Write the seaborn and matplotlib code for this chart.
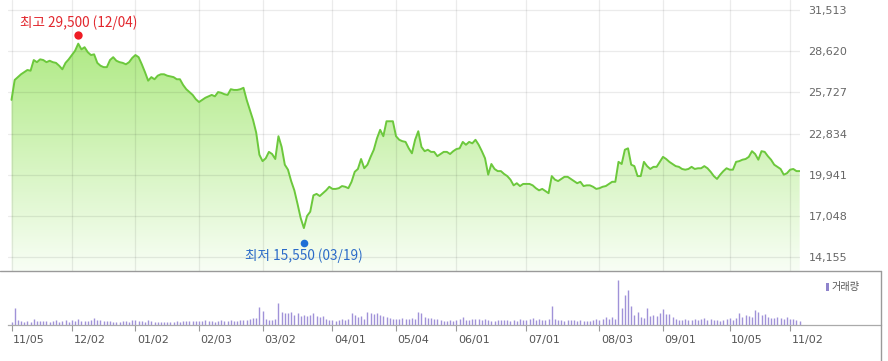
import numpy as np
import pandas as pd
import matplotlib
matplotlib.use("Agg")
import matplotlib.pyplot as plt
from matplotlib.patches import PathPatch, Rectangle
from matplotlib.lines import Line2D
from matplotlib.transforms import ScaledTranslation
import seaborn as sns

# ---------------- data ----------------
start_date = "2019-11-05"
end_date = "2020-11-05"
market_holidays = ["2019-12-25", "2019-12-31", "2020-01-01", "2020-01-24", "2020-01-27",
                   "2020-04-15", "2020-04-30", "2020-05-01", "2020-05-05", "2020-08-17",
                   "2020-09-30", "2020-10-01", "2020-10-02", "2020-10-09"]

close = [
    25200, 26600, 26800, 27000, 27150, 27300, 27250, 28000, 27850, 28050,
    28000, 27850, 27950, 27850, 27800, 27600, 27350, 27800, 28050, 28350,
    28650, 29150, 28750, 28900, 28550, 28350, 28400, 27800, 27600, 27500,
    27500, 28000, 28200, 27950, 27850, 27800, 27700, 27850, 28150, 28350,
    28200, 27700, 27150, 26550, 26800, 26650, 26900, 27000, 27000, 26900,
    26850, 26800, 26650, 26650, 26250, 25950, 25750, 25550, 25250, 25050,
    25200, 25350, 25450, 25550, 25450, 25750, 25700, 25600, 25550, 25950,
    25900, 25900, 25950, 26050, 25200, 24500, 23800, 22900, 21350, 20900,
    21100, 21550, 21400, 21050, 22650, 21900, 20650, 20300, 19500, 18850,
    17900, 16900, 16200, 17050, 17350, 18500, 18600, 18450, 18650, 18850,
    19100, 18950, 18950, 19000, 19150, 19100, 19000, 19450, 20150, 20350,
    21050, 20400, 20650, 21200, 21700, 22500, 23100, 22650, 23700, 23700,
    23700, 22650, 22400, 22300, 22250, 21800, 21450, 22400, 23000, 21900,
    21600, 21700, 21550, 21550, 21250, 21400, 21550, 21550, 21400, 21600,
    21750, 21800, 22250, 22050, 22250, 22150, 22400, 22050, 21600, 21100,
    19950, 20700, 20350, 20200, 20200, 20000, 19850, 19600, 19200, 19350,
    19150, 19300, 19300, 19300, 19200, 19000, 18850, 18950, 18800, 18650,
    19850, 19600, 19500, 19650, 19800, 19800, 19650, 19500, 19350, 19450,
    19150, 19200, 19200, 19100, 18950, 19000, 19100, 19150, 19300, 19450,
    19450, 20850, 20700, 21700, 21800, 20650, 20550, 19850, 19850, 20850,
    20550, 20350, 20500, 20500, 20850, 21200, 21050, 20850, 20700, 20550,
    20500, 20350, 20300, 20350, 20500, 20350, 20400, 20400, 20550, 20400,
    20150, 19850, 19650, 19950, 20200, 20400, 20300, 20300, 20850, 20900,
    21000, 21050, 21200, 21600, 21400, 21000, 21600, 21550, 21250, 21000,
    20650, 20500, 20350, 19950, 20050, 20300, 20350, 20200, 20200,
]

# volume (units of 10,000 shares), one row per month
volume = [
    3, 17, 5, 4, 3, 4, 3, 6, 4, 4, 4, 4, 3, 4, 5, 3, 4, 5, 3,
    5, 4, 6, 4, 4, 4, 5, 7, 5, 5, 4, 4, 4, 3, 3, 3, 4, 4, 3, 5,
    5, 4, 4, 3, 5, 4, 3, 3, 3, 3, 3, 3, 3, 4, 3, 4, 4, 4, 4, 4,
    4, 4, 5, 4, 4, 3, 4, 5, 4, 4, 5, 4, 4, 5, 5, 5, 6, 7, 7, 18,
    14, 6, 5, 5, 6, 22, 13, 12, 12, 13, 10, 12, 9, 10, 9, 10, 12, 9, 8, 9, 6, 5,
    5, 4, 5, 6, 5, 6, 12, 10, 8, 9, 6, 13, 12, 11, 12, 10, 9, 8, 7, 6,
    6, 6, 7, 6, 6, 7, 6, 13, 12, 8, 7, 7, 6, 6, 5, 4, 4, 5, 4,
    5, 6, 8, 5, 5, 6, 6, 6, 5, 6, 5, 4, 4, 5, 5, 5, 5, 4, 5, 4, 6, 5,
    5, 6, 7, 5, 6, 5, 5, 6, 19, 6, 5, 5, 4, 5, 5, 5, 4, 5, 4, 4, 4, 5, 6,
    5, 6, 8, 6, 8, 6, 45, 17, 30, 35, 19, 10, 13, 8, 7, 17, 9, 10, 9, 12,
    16, 11, 11, 8, 6, 5, 5, 6, 5, 5, 6, 5, 6, 7, 5, 6, 5, 5, 4, 5, 6,
    7, 5, 7, 12, 8, 10, 9, 8, 15, 13, 10, 11, 8, 7, 7, 8, 7, 6, 8,
    6, 6, 5, 4,
]

y_ticks = [14155, 17048, 19941, 22834, 25727, 28620, 31513]
high_value, high_label = 29500, "12/04"
low_value, low_label = 15550, "03/19"
high_text = "최고 29,500 (12/04)"
low_text = "최저 15,550 (03/19)"
legend_text = "거래량"

# ---------------- build ----------------
dates = pd.bdate_range(start_date, end_date).difference(pd.to_datetime(market_holidays))
df = pd.DataFrame({"date": dates, "close": close, "volume": volume})
df["pos"] = np.arange(len(df))
month_first = df.groupby(df["date"].dt.to_period("M"))["pos"].min().values
tick_labels = [df["date"].iloc[p].strftime("%m/%d") for p in month_first]

sns.set_theme(style="white")
plt.rcParams["font.family"] = ["DejaVu Sans"]
KFONT = ["Noto Sans CJK KR", "DejaVu Sans"]

W, H, DPI = 888, 361, 100
fig = plt.figure(figsize=(W / DPI, H / DPI), dpi=DPI)
fig.patch.set_facecolor("white")

# layout in pixels
px_left, px_right, px_top, px_bottom = 8, 800, 0, 271
px_first, px_step = 11.5, 3.178
px_per_val = 41.2 / 2893.0
y_top_px = 10  # pixel of top tick

ax = fig.add_axes([px_left / W, (H - px_bottom) / H, (px_right - px_left) / W, (px_bottom - px_top) / H])
x0 = -(px_first - px_left) / px_step
x1 = x0 + (px_right - px_left) / px_step
ymax = y_ticks[-1] + (y_top_px - px_top) / px_per_val
ymin = y_ticks[-1] - (px_bottom - y_top_px) / px_per_val

# gradient fill under the line
poly = ax.fill_between(df["pos"], df["close"], ymin, color="none", lw=0)
path = poly.get_paths()[0]
patch = PathPatch(path, transform=ax.transData, facecolor="none", edgecolor="none")
ax.add_patch(patch)
top_rgb = np.array([162, 230, 112]) / 255.0
bot_rgb = np.array([248, 254, 245]) / 255.0
t = np.linspace(0, 1, 256)[:, None]
grad = (bot_rgb[None, :] * (1 - t) + top_rgb[None, :] * t)[:, None, :]
im = ax.imshow(grad, extent=[x0, x1, ymin, ymax], aspect="auto", origin="lower",
               interpolation="bilinear", zorder=1)
im.set_clip_path(patch)

sns.lineplot(data=df, x="pos", y="close", ax=ax, color="#6cc83c", lw=1.4, zorder=3)

ax.set_xlim(x0, x1)
ax.set_ylim(ymin, ymax)
ax.set_xticks(month_first)
ax.set_xticklabels([])
ax.set_yticks(y_ticks)
ax.set_yticklabels([f"{v:,}" for v in y_ticks])
ax.yaxis.tick_right()
ax.tick_params(axis="y", length=0, pad=6, labelsize=8, labelcolor="#666666")
ax.tick_params(axis="x", length=0)
ax.set_axisbelow(False)
ax.grid(True, color="#000000", alpha=0.08, lw=0.9)
for gl in ax.get_xgridlines() + ax.get_ygridlines():
    gl.set_zorder(2)
for s in ax.spines.values():
    s.set_visible(False)
ax.set_xlabel("")
ax.set_ylabel("")

# high / low markers
hi_pos = df["pos"][df["date"].dt.strftime("%m/%d") == high_label].iloc[0]
lo_pos = df["pos"][df["date"].dt.strftime("%m/%d") == low_label].iloc[0]
tr_hi = ax.transData + ScaledTranslation(0, 3.7 / DPI, fig.dpi_scale_trans)
tr_lo = ax.transData + ScaledTranslation(0, -5.4 / DPI, fig.dpi_scale_trans)
ax.plot([hi_pos], [high_value], "o", ms=6, color="#ee1c24", mec="none", transform=tr_hi, zorder=5, clip_on=False)
ax.plot([lo_pos], [low_value], "o", ms=5.5, color="#1f6fd6", mec="none", transform=tr_lo, zorder=5, clip_on=False)
ax.annotate(high_text, xy=(hi_pos, high_value), xytext=(0, 16 * 0.72), textcoords="offset points",
            ha="center", va="center", color="#e2262d", fontsize=9.8, family=KFONT)
ax.annotate(low_text, xy=(lo_pos, low_value), xytext=(0, -18.4 * 0.72), textcoords="offset points",
            ha="center", va="center", color="#2b6bc8", fontsize=9.8, family=KFONT)

# volume panel
v_right, v_top, v_bottom = 881, 271, 325
ax2 = fig.add_axes([px_left / W, (H - v_bottom) / H, (v_right - px_left) / W, (v_bottom - v_top) / H])
ax2.vlines(df["pos"], 0, df["volume"], color="#a092d8", lw=1.0)
ax2.set_xlim(x0, x0 + (v_right - px_left) / px_step)
ax2.set_ylim(0, v_bottom - v_top)
ax2.set_yticks([])
ax2.set_xticks(month_first)
ax2.set_xticklabels(tick_labels)
ax2.tick_params(axis="x", direction="out", length=4, width=0.8, color="#999999",
                labelsize=8, labelcolor="#555555", pad=3, bottom=True)
for lbl in ax2.get_xticklabels():
    lbl.set_ha("left")
    lbl.set_transform(lbl.get_transform() + ScaledTranslation(1.5 / DPI, 0, fig.dpi_scale_trans))
for name, s in ax2.spines.items():
    s.set_visible(name in ("bottom",))
    s.set_color("#aaaaaa")
    s.set_linewidth(0.9)
ax2.patch.set_alpha(0)

# borders
fig.add_artist(Line2D([0, v_right / W], [(H - v_top) / H] * 2, color="#9a9a9a", lw=1.0))
fig.add_artist(Line2D([v_right / W] * 2, [0, (H - v_top) / H], color="#9a9a9a", lw=1.0))

# legend
fig.add_artist(Rectangle((825.5 / W, (H - 291) / H), 3 / W, 8 / H, color="#8f84cc", lw=0))
fig.text(832 / W, (H - 287) / H, legend_text, ha="left", va="center", fontsize=7.3,
         color="#555555", family=KFONT)

fig.savefig("out.png", dpi=DPI, facecolor="white")
